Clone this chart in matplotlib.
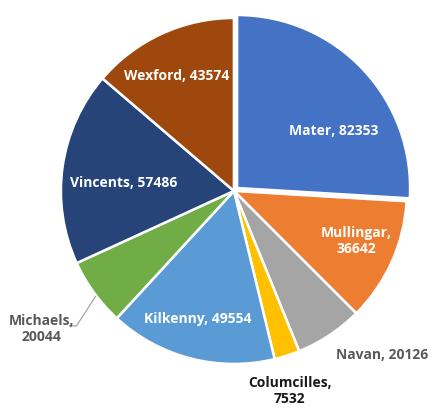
import matplotlib
matplotlib.use("Agg")
import matplotlib.pyplot as plt
import numpy as np

labels = ["Mater", "Mullingar", "Navan", "Columcilles", "Kilkenny", "Michaels", "Vincents", "Wexford"]
values = [82353, 36642, 20126, 7532, 49554, 20044, 57486, 43574]
colors = ["#4472C4", "#ED7D31", "#A5A5A5", "#FFC000", "#5B9BD5", "#70AD47", "#264478", "#9E480E"]

# label placement (radius factor, angle in degrees), text colour, line break
label_pos = [(0.674, 31.0), (0.762, -22.3), (1.28, -47.9), (1.20, -74.4),
             (0.77, -105.6), (1.367, -144.3), (0.64, 175.9), (0.743, 116.6)]
label_col = ["white", "white", "#595959", "#1a1a1a", "white", "#595959", "white", "white"]
two_line = [False, True, False, True, False, True, False, False]

plt.rcParams["font.family"] = ["Open Sans", "DejaVu Sans"]

fig = plt.figure(figsize=(4.32, 4.08), dpi=100)
ax = fig.add_axes([0.141, 0.108, 0.801, 0.848])
explode = [0.025] + [0] * (len(values) - 1)
ax.pie(values, colors=colors, startangle=90, counterclock=False, explode=explode,
       wedgeprops=dict(edgecolor="white", linewidth=1.8), radius=1.0)
ax.set_xlim(-1, 1)
ax.set_ylim(-1, 1)
ax.set_aspect("auto")

for name, v, (r, a), c, tl in zip(labels, values, label_pos, label_col, two_line):
    x = r * np.cos(np.radians(a))
    y = r * np.sin(np.radians(a))
    sep = ",\n" if tl else ", "
    ax.text(x, y, f"{name}{sep}{v}", ha="center", va="center", color=c,
            fontsize=10, fontweight="bold", linespacing=1.25, clip_on=False)

# leader line for Michaels
ax.plot([-0.95, -0.91, -0.80], [-0.78, -0.78, -0.61], color="#A5A5A5", lw=0.9, clip_on=False)

ax.axis("off")
fig.savefig("out.png", dpi=100)
